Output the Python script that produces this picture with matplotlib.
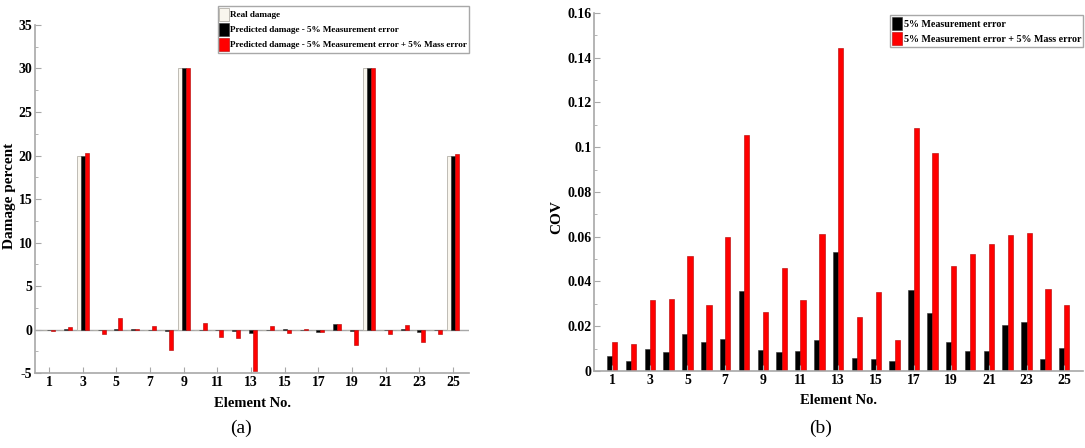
import matplotlib.pyplot as plt
import numpy as np
from matplotlib.ticker import MultipleLocator

plt.rcParams['font.family'] = ['Liberation Serif', 'DejaVu Serif']
plt.rcParams['axes.unicode_minus'] = False

# Data
elements = np.arange(1, 26)
real_damage = [0, 0, 20, 0, 0, 0, 0, 0, 30, 0, 0, 0, 0, 0, 0, 0, 0, 0, 0, 30, 0, 0, 0, 0, 20]
pred_meas = [-0.05, 0.05, 20.0, -0.1, 0.1, 0.05, -0.1, -0.2, 30.0, -0.05, 0.0, -0.15, -0.4,
             0.0, 0.05, -0.1, -0.3, 0.6, -0.2, 30.1, -0.1, 0.1, -0.3, -0.1, 20.0]
pred_meas_mass = [-0.15, 0.3, 20.3, -0.5, 1.3, 0.05, 0.4, -2.35, 30.0, 0.7, -0.9, -1.0, -4.8,
                  0.35, -0.35, 0.05, -0.3, 0.6, -1.75, 30.1, -0.5, 0.5, -1.4, -0.5, 20.2]

cov_meas = [0.0067, 0.0045, 0.0097, 0.0086, 0.0167, 0.0128, 0.0143, 0.0359, 0.0094, 0.0086,
            0.0088, 0.0137, 0.0531, 0.0060, 0.0055, 0.0043, 0.0362, 0.0257, 0.0128, 0.0088,
            0.0091, 0.0204, 0.0219, 0.0055, 0.0101]
cov_meas_mass = [0.0131, 0.0122, 0.0317, 0.0323, 0.0516, 0.0295, 0.0597, 0.1055, 0.0262, 0.0460,
                 0.0316, 0.0612, 0.1444, 0.0240, 0.0351, 0.0137, 0.1088, 0.0975, 0.0470, 0.0522,
                 0.0567, 0.0607, 0.0615, 0.0366, 0.0293]

xticks = np.arange(1, 26, 2)
yticks_a = np.arange(-5, 36, 5)
yticks_b = [0, 0.02, 0.04, 0.06, 0.08, 0.1, 0.12, 0.14, 0.16]
ylabels_b = ['0', '0.02', '0.04', '0.06', '0.08', '0.1', '0.12', '0.14', '0.16']

spine_c = '#a8a8a8'
white_c = '#f9f6ee'
red_c = '#ff0000'

fig = plt.figure(figsize=(10.85, 4.48), dpi=100)
ax1 = fig.add_axes([0.0323, 0.1674, 0.4, 0.7768])
ax2 = fig.add_axes([0.5475, 0.1719, 0.4507, 0.7991])


def style_axes(ax):
    for s in ['top', 'right']:
        ax.spines[s].set_visible(False)
    for s in ['left', 'bottom']:
        ax.spines[s].set_color(spine_c)
        ax.spines[s].set_linewidth(1.2)
    ax.tick_params(axis='both', which='major', direction='in', length=4, color=spine_c,
                   labelsize=10, pad=2)
    ax.tick_params(axis='y', which='minor', direction='in', length=2, color=spine_c)
    ax.tick_params(axis='x', which='minor', length=0)
    for lab in ax.get_xticklabels() + ax.get_yticklabels():
        lab.set_fontweight('bold')


# (a) damage percent
w = 0.24
ax1.bar(elements - w, real_damage, w, color=white_c, edgecolor='#b5b2aa', linewidth=0.6,
        label='Real damage')
ax1.bar(elements, pred_meas, w, color='black', edgecolor='#333333', linewidth=0.4,
        label='Predicted damage - 5% Measurement error')
ax1.bar(elements + w, pred_meas_mass, w, color=red_c, edgecolor='#b00000', linewidth=0.4,
        label='Predicted damage - 5% Measurement error + 5% Mass error')
ax1.axhline(0, color=spine_c, linewidth=1.0, zorder=0)
ax1.set_xlim(0.17, 25.95)
ax1.set_ylim(-5, 35)
ax1.set_xticks(xticks)
ax1.set_yticks(yticks_a)
ax1.yaxis.set_minor_locator(MultipleLocator(2.5))
style_axes(ax1)
ax1.set_xlabel('Element No.', fontsize=10.5, fontweight='bold')
ax1.xaxis.set_label_coords(0.5, -0.07)
ax1.set_ylabel('Damage percent', fontsize=11, fontweight='bold')
ax1.yaxis.set_label_coords(-0.043, 0.51)
leg1 = ax1.legend(loc='upper right', bbox_to_anchor=(1.0, 1.055),
                  prop={'weight': 'bold', 'size': 6.6}, frameon=True, fancybox=False,
                  edgecolor=spine_c, framealpha=1, handlelength=1.0, handleheight=1.9,
                  handletextpad=0.2, borderpad=0.2, labelspacing=0.15, borderaxespad=0)
leg1.get_frame().set_linewidth(1.0)

# (b) COV
w2 = 0.28
ax2.bar(elements - w2 / 2, cov_meas, w2, color='black', edgecolor='#333333', linewidth=0.4,
        label='5% Measurement error')
ax2.bar(elements + w2 / 2, cov_meas_mass, w2, color=red_c, edgecolor='#b00000', linewidth=0.4,
        label='5% Measurement error + 5% Mass error')
ax2.set_xlim(0.04, 26.0)
ax2.set_ylim(0, 0.16)
ax2.set_xticks(xticks)
ax2.set_yticks(yticks_b)
ax2.set_yticklabels(ylabels_b)
ax2.yaxis.set_minor_locator(MultipleLocator(0.01))
style_axes(ax2)
ax2.set_xlabel('Element No.', fontsize=10.5, fontweight='bold')
ax2.xaxis.set_label_coords(0.5, -0.065)
ax2.set_ylabel('COV', fontsize=11, fontweight='bold')
ax2.yaxis.set_label_coords(-0.062, 0.43)
leg2 = ax2.legend(loc='upper right', bbox_to_anchor=(1.0, 0.995),
                  prop={'weight': 'bold', 'size': 7.2}, frameon=True, fancybox=False,
                  edgecolor=spine_c, framealpha=1, handlelength=1.0, handleheight=1.7,
                  handletextpad=0.2, borderpad=0.2, labelspacing=0.15, borderaxespad=0)
leg2.get_frame().set_linewidth(1.0)

fig.text(0.222, 0.043, '(a)', fontsize=14, ha='center', va='center')
fig.text(0.756, 0.043, '(b)', fontsize=14, ha='center', va='center')

fig.savefig('out.png', dpi=100)
